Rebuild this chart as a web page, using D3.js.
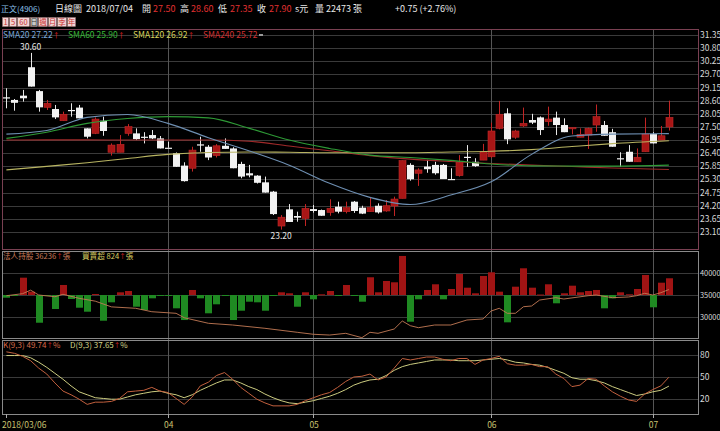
<!DOCTYPE html>
<html>
<head>
<meta charset="utf-8">
<script src="https://cdn.jsdelivr.net/npm/d3@7"></script>
<style>
body { margin: 0; background: #000; }
text { font-family: "Noto Sans CJK TC", "Noto Sans", sans-serif; }
</style>
</head>
<body>
<div id="chart"></div>
<script>
var width = 720,
height = 431;

// daily candles, 2018/03/06 .. 2018/07/04 (83 trading days)
var opens = [28.74,28.63,28.81,30.00,29.00,28.32,28.25,27.76,28.21,28.31,
  27.44,27.23,27.76,26.44,26.44,27.23,27.23,27.09,27.16,27.02,
  26.63,26.40,25.88,25.77,26.77,26.67,26.30,26.71,26.60,25.95,
  25.56,25.46,25.18,24.79,23.35,24.05,23.77,23.67,24.06,24.02,
  23.92,24.16,23.95,24.37,24.12,23.95,24.20,23.98,24.19,24.51,
  25.91,25.56,25.84,25.91,25.91,25.32,25.46,26.25,26.04,26.11,
  26.25,27.44,28.07,27.07,27.54,27.79,27.90,27.72,27.89,27.58,
  27.45,27.07,27.16,27.58,27.58,27.28,26.19,26.46,26.04,26.46,
  27.20,26.95,27.50];
var highs = [29.12,28.67,29.05,30.60,29.05,28.63,28.42,28.14,28.49,28.42,
  27.44,27.90,27.93,26.81,27.16,27.62,27.44,27.28,27.37,27.12,
  26.88,26.43,26.02,26.67,27.09,26.74,26.78,27.02,26.65,26.04,
  25.91,25.48,25.42,24.82,23.81,24.27,23.95,24.27,24.23,24.04,
  24.47,24.37,24.37,24.40,24.20,24.54,24.30,24.44,24.58,26.09,
  25.98,25.77,26.12,26.04,25.95,25.77,26.32,26.74,26.19,26.79,
  27.68,28.59,28.28,27.38,28.31,28.05,27.94,28.35,28.14,27.86,
  27.47,27.44,27.47,28.44,27.75,27.42,26.44,26.74,26.60,27.89,
  27.28,27.54,28.60];
var lows = [28.28,28.18,28.56,29.19,28.14,28.21,27.83,27.76,27.93,27.86,
  27.02,27.20,27.13,26.30,26.44,27.13,26.95,26.81,26.99,26.60,
  26.63,25.83,25.21,25.63,26.46,26.11,26.22,26.58,25.77,25.35,
  25.39,25.13,24.75,23.81,23.20,23.52,23.53,23.35,23.91,23.78,
  23.78,23.88,23.88,23.90,23.85,23.95,23.87,23.95,23.77,24.51,
  25.25,25.03,25.58,25.50,25.32,25.32,25.42,25.83,25.83,26.11,
  26.20,27.40,26.78,27.00,27.50,27.62,27.16,27.55,27.16,27.28,
  27.19,27.07,26.58,27.30,27.13,26.67,25.83,26.04,26.04,26.46,
  26.81,26.95,27.35];
var closes = [28.74,28.51,28.70,29.19,28.32,28.49,27.90,28.03,28.21,27.86,
  27.09,27.83,27.33,26.74,26.77,27.51,26.99,27.07,27.02,26.60,
  26.63,25.83,25.23,26.53,26.72,26.22,26.71,26.58,25.77,25.42,
  25.47,25.16,24.75,23.85,23.72,23.52,23.70,24.09,23.98,23.78,
  24.09,23.95,24.12,23.98,23.87,24.12,23.92,24.20,24.48,26.09,
  25.31,25.70,25.73,25.56,25.32,25.32,26.02,26.25,25.86,26.46,
  27.33,28.03,26.98,27.33,27.65,27.68,27.37,27.83,27.58,27.28,
  27.47,27.19,27.44,27.93,27.13,26.67,26.19,26.04,26.23,27.20,
  26.81,27.13,27.90];

// moving averages at these day indices
var smaIdx = [0,5,10,15,20,25,30,35,40,45,50,55,60,65,70,75,82];
var sma20  = [27.20,27.35,27.90,28.02,27.65,27.05,26.50,25.90,25.14,24.55,24.25,24.65,25.20,26.35,27.12,27.20,27.22];
var sma60  = [27.02,27.28,27.65,27.85,27.93,27.88,27.45,26.95,26.60,26.32,26.22,26.10,25.95,25.87,25.86,25.86,25.90];
var sma120 = [25.70,25.85,26.00,26.18,26.35,26.43,26.45,26.44,26.42,26.42,26.42,26.45,26.48,26.55,26.68,26.80,26.92];
var sma240 = [26.95,26.96,26.96,26.95,26.95,26.95,26.90,26.70,26.50,26.30,26.15,26.05,25.97,25.90,25.84,25.78,25.72];

// institutional holdings (張) and daily net buy/sell (張)
var holdIdx = [0,2,3,4,6,7,9,11,13,16,18,21,22,25,28,32,36,38,40,42,44,45,46,48,49,50,51,53,55,57,59,60,61,62,63,64,65,66,68,69,72,73,75,77,78,79,80,81,82];
var holdVal = [34840,35300,36100,35000,34600,35160,34250,33600,32300,31980,31200,30840,29840,28570,28180,27430,26520,26070,25900,26290,25300,26520,26290,27270,29090,28020,27570,28180,28180,29320,29550,31360,31980,30840,30840,32340,32500,33860,34390,34090,34840,35000,34390,34550,34840,35390,35000,35520,36236];
var netBuy = [-133,-25,853,163,-1366,-25,-690,493,-197,-626,
  -823,49,-1267,-360,133,197,-577,-740,-163,-25,
  -25,-656,-1233,247,-163,-902,-458,-25,-1233,-774,
  -330,-360,-774,-25,133,84,-577,133,-212,35,
  197,-25,493,-25,-330,873,133,690,626,1923,
  -1316,-212,247,528,-212,296,1035,360,84,937,
  1119,163,-1346,409,1316,360,25,528,-409,84,
  458,133,197,247,-656,-163,133,35,296,986,
  -606,606,824];

// KD(9,3)
var kVal = [84,82,78,72,62,54,42,31,26,20,
  13,16,16,17,21,30,31,32,36,31,
  29,21,13,23,38,43,52,56,47,36,
  28,20,15,11,11,11,13,18,22,26,
  29,36,44,50,51,54,46,50,62,75,
  73,75,77,77,74,72,75,75,67,73,
  75,78,68,66,66,67,64,64,54,48,
  37,39,48,47,38,30,24,19,17,27,
  33,38,49.74];
var dVal = [79,79,79,76,70,63,55,47,38,30,
  26,22,21,20,20,23,26,28,30,31,
  28,26,22,26,32,37,42,46,46,42,
  37,33,27,22,18,15,14,16,18,21,
  24,28,33,39,43,46,47,52,59,64,
  67,69,71,73,73,73,72,72,72,73,
  74,75,73,70,69,67,66,63,59,55,
  49,47,47,45,42,37,33,29,25,27,
  30,32,37.65];

var tickIdx = [0,20,38,60,80];
var tickLab = ["2018/03/06","04","05","06","07"];
var priceTicks = [31.35,30.80,30.25,29.70,29.15,28.60,28.05,27.50,26.95,26.40,25.85,25.30,24.75,24.20,23.65,23.10];
var holdTicks = [40000,35000,30000];
var kdTicks = [80,50,20];

var L = 2, R = 698;
var main = {top: 29, bottom: 249},
    vol = {top: 251, bottom: 338},
    kd = {top: 340, bottom: 414};

var svg = d3.select("#chart")
.append("svg")
.attr("width", width)
.attr("height", height)
.style("background", "#000");

var x = d3.scaleLinear().domain([0, 82]).range([6.4, 668.9]);
var yP = d3.scaleLinear().domain([23.10, 31.35]).range([232, 35]);
var yH = d3.scaleLinear().domain([30000, 40000]).range([317, 273]);
var barH = d3.scaleLinear().domain([0, 1000]).range([0, 20.3]);
var yK = d3.scaleLinear().domain([0, 100]).range([kd.bottom, kd.top]);

var gridColor = "#3a3a3a";

//horizontal grid lines for every panel
function hgrid(ticks, scale) {
	svg.append("g").selectAll("line")
	.data(ticks)
	.enter()
	.append("line")
	.attr("x1", L).attr("x2", R)
	.attr("y1", function(d) { return Math.round(scale(d)) + 0.5; })
	.attr("y2", function(d) { return Math.round(scale(d)) + 0.5; })
	.attr("stroke", gridColor);
}
hgrid(priceTicks, yP);
hgrid(holdTicks, yH);
hgrid(kdTicks, yK);

//month lines through all panels
svg.append("g").selectAll("line")
.data(tickIdx.slice(1))
.enter()
.append("line")
.attr("x1", function(d) { return Math.round(x(d)) + 0.5; })
.attr("x2", function(d) { return Math.round(x(d)) + 0.5; })
.attr("y1", main.top).attr("y2", kd.bottom)
.attr("stroke", "#555");

//panel frames
svg.append("rect").attr("x", L + 0.5).attr("y", main.top + 0.5)
.attr("width", R - L).attr("height", main.bottom - main.top)
.attr("fill", "none").attr("stroke", "#7a4052");
[vol, kd].forEach(function(p) {
	svg.append("rect").attr("x", L + 0.5).attr("y", p.top + 0.5)
	.attr("width", R - L).attr("height", p.bottom - p.top)
	.attr("fill", "none").attr("stroke", "#8a8a8a");
});

//candles
var days = d3.range(opens.length);
var up = function(i) { return closes[i] > opens[i]; };

var candles = svg.append("g");
candles.selectAll("line")
.data(days)
.enter()
.append("line")
.attr("x1", function(i) { return Math.round(x(i)) + 0.5; })
.attr("x2", function(i) { return Math.round(x(i)) + 0.5; })
.attr("y1", function(i) { return yP(highs[i]); })
.attr("y2", function(i) { return yP(lows[i]); })
.attr("stroke", function(i) { return up(i) ? "#c22424" : "#e8e8e8"; });

candles.selectAll("rect")
.data(days)
.enter()
.append("rect")
.attr("x", function(i) { return Math.round(x(i)) - 3; })
.attr("y", function(i) { return yP(Math.max(opens[i], closes[i])); })
.attr("width", 7)
.attr("height", function(i) {
	return Math.max(1.2, Math.abs(yP(opens[i]) - yP(closes[i])));
})
.attr("fill", function(i) { return up(i) ? "#a81616" : "#f2f2f2"; })
.attr("stroke", function(i) { return up(i) ? "#c42a2a" : "none"; })
.attr("stroke-width", 0.6);

//moving averages
var maLine = function(vals) {
	return d3.line()
	.x(function(d, k) { return x(smaIdx[k]); })
	.y(function(d) { return yP(d); })
	.curve(d3.curveMonotoneX)(vals);
};
[[sma240, "#a02a2a"], [sma120, "#b8b462"], [sma60, "#2e9a36"], [sma20, "#6e8fb2"]].forEach(function(s) {
	svg.append("path").attr("d", maLine(s[0]))
	.attr("fill", "none").attr("stroke", s[1]).attr("stroke-width", 1.1);
});

//high / low notes
var hiI = d3.maxIndex(highs), loI = d3.minIndex(lows);
svg.append("text").attr("x", x(hiI)).attr("y", yP(highs[hiI]) - 3)
.attr("text-anchor", "middle").attr("font-size", 8.5).attr("fill", "#e6e6e6")
.text(highs[hiI].toFixed(2));
svg.append("text").attr("x", x(loI)).attr("y", yP(lows[loI]) + 9)
.attr("text-anchor", "middle").attr("font-size", 8.5).attr("fill", "#e6e6e6")
.text(lows[loI].toFixed(2));

//net buy bars around the 35000 line
var base = yH(35000);
svg.append("g").selectAll("rect")
.data(days)
.enter()
.append("rect")
.attr("x", function(i) { return Math.round(x(i)) - 3; })
.attr("y", function(i) { return netBuy[i] > 0 ? base - barH(netBuy[i]) : base; })
.attr("width", 7)
.attr("height", function(i) { return Math.max(1, barH(Math.abs(netBuy[i]))); })
.attr("fill", function(i) { return netBuy[i] > 0 ? "#a01414" : "#1f8a22"; });

svg.append("path")
.attr("d", d3.line()
	.x(function(d, k) { return x(holdIdx[k]); })
	.y(function(d) { return yH(d); })(holdVal))
.attr("fill", "none").attr("stroke", "#c47a56").attr("stroke-width", 0.9);

//KD lines
var kdLine = d3.line()
.x(function(d, i) { return x(i); })
.y(function(d) { return yK(d); });
svg.append("path").attr("d", kdLine(dVal))
.attr("fill", "none").attr("stroke", "#cccc80").attr("stroke-width", 1);
svg.append("path").attr("d", kdLine(kVal))
.attr("fill", "none").attr("stroke", "#c2603e").attr("stroke-width", 1);

//right labels
function rlabels(ticks, scale, fmt, size) {
	svg.append("g").selectAll("text")
	.data(ticks)
	.enter()
	.append("text")
	.attr("x", 700)
	.attr("y", function(d) { return scale(d) + 3; })
	.attr("font-size", size)
	.attr("fill", "#d8d8d8")
	.text(fmt);
}
rlabels(priceTicks, yP, function(d) { return d.toFixed(2); }, 8.5);
rlabels(holdTicks, yH, function(d) { return d; }, 7.4);
rlabels(kdTicks, yK, function(d) { return d; }, 8.5);

//x axis
var xAxis = svg.append("g");
xAxis.selectAll("line")
.data(tickIdx)
.enter()
.append("line")
.attr("x1", function(d) { return Math.round(x(d)) + 0.5; })
.attr("x2", function(d) { return Math.round(x(d)) + 0.5; })
.attr("y1", kd.bottom).attr("y2", kd.bottom + 4)
.attr("stroke", "#aaa");
xAxis.selectAll("text")
.data(tickIdx)
.enter()
.append("text")
.attr("x", function(d, k) { return k == 0 ? 2 : x(d) - 4; })
.attr("y", 428)
.attr("font-size", 8.5)
.attr("fill", "#c8c070")
.text(function(d, k) { return tickLab[k]; });

//legends: parts are [text, color, x or null (flow on), size]
function legend(y, size, parts) {
	var t = svg.append("text").attr("y", y).attr("font-size", size);
	parts.forEach(function(p) {
		var s = t.append("tspan").attr("fill", p[1]).text(p[0]);
		if (p[2] != null) s.attr("x", p[2]);
		if (p[3]) s.attr("font-size", p[3]);
	});
}
var arrow = "#e02020";
legend(38, 8.5, [
	["SMA20 27.22", "#7aa6d6", 3], ["↑", arrow, null, 7],
	["SMA60 25.90", "#38b838", 68], ["↑", arrow, null, 7],
	["SMA120 26.92", "#d8d45c", 133], ["↑", arrow, null, 7],
	["SMA240 25.72", "#d03030", 203]
]);
svg.append("rect").attr("x", 259).attr("y", 34).attr("width", 4).attr("height", 2).attr("fill", "#999");

legend(259, 7.6, [
	["法人持股 36236", "#c87a58", 3], ["↑", arrow, null, 6.5], ["張", "#c87a58", null],
	["買賣超 824", "#d8cc60", 82], ["↑", arrow, null, 6.5], ["張", "#d8cc60", null]
]);
legend(348, 8, [
	["K(9,3) 49.74", "#d86a48", 3], ["↑", arrow, null, 6.5], ["%", "#d86a48", null],
	["D(9,3) 37.65", "#d4d488", 70], ["↑", arrow, null, 6.5], ["%", "#d4d488", null]
]);

//header
var w = "#e8e8e8", red = "#e03030";
legend(12, 9, [
	["正文(4906)", "#8ec2ec", 1, 8], ["日線圖", w, 55], ["2018/07/04", w, 86],
	["開", w, 142], ["27.50", red, 153],
	["高", w, 180], ["28.60", red, 191],
	["低", w, 218], ["27.35", red, 230],
	["收", w, 257], ["27.90", red, 269],
	["s元", w, 295], ["量", w, 315], ["22473 張", w, 326],
	["+0.75 (+2.76%)", w, 395]
]);

//period buttons
var btnLab = ["1","5","60","日","週","月","季","年"];
var btnX = [2,9,17,30,38,48,57,67,76];
var btns = svg.append("g");
btnLab.forEach(function(b, k) {
	var sel = b == "日";
	btns.append("rect").attr("x", btnX[k] + 0.5).attr("y", 17.5)
	.attr("width", btnX[k + 1] - btnX[k] - 1).attr("height", 9)
	.attr("fill", sel ? "#c8c8c8" : "#f0d4d4").attr("stroke", "#9a7070").attr("stroke-width", 0.5);
	btns.append("text").attr("x", (btnX[k] + btnX[k + 1]) / 2).attr("y", 25)
	.attr("text-anchor", "middle").attr("font-size", 7.5)
	.attr("fill", sel ? "#333" : "#c83434").text(b);
});
</script>
</body>
</html>
